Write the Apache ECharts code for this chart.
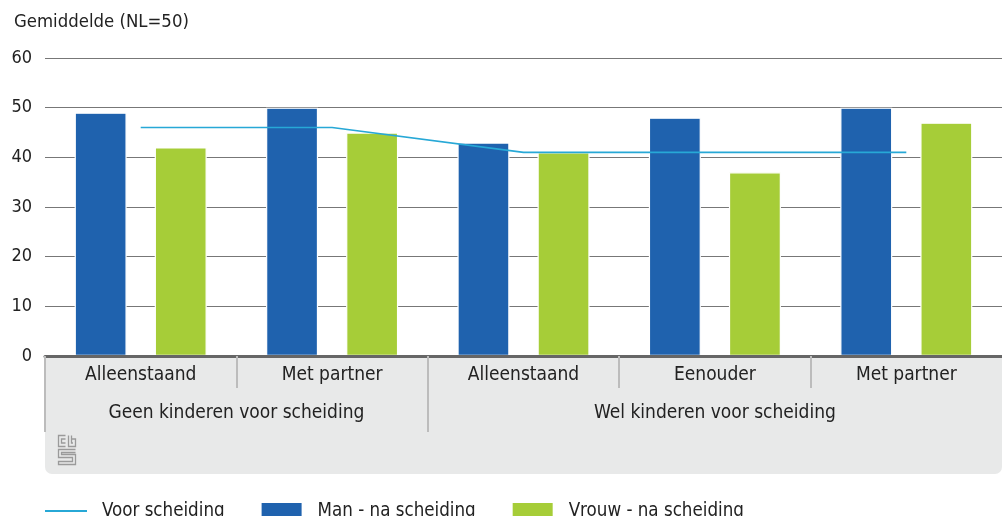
<!DOCTYPE html>
<html>
<head>
<meta charset="utf-8">
<script src="https://cdn.jsdelivr.net/npm/echarts@6/dist/echarts.min.js"></script>
<style>
html,body{margin:0;padding:0;background:#fff;}
#c{width:1002px;height:516px;}
</style>
</head>
<body>
<div id="c"></div>
<script>
const categories = ['Alleenstaand', 'Met partner', 'Alleenstaand', 'Eenouder', 'Met partner'];
const groups = ['Geen kinderen voor scheiding', 'Wel kinderen voor scheiding'];
const groupSizes = [2, 3];
const voorScheiding = [46, 46, 41, 41, 41];
const manNa = [49, 50, 43, 48, 50];
const vrouwNa = [42, 45, 41, 37, 47];
const yTicks = [0, 10, 20, 30, 40, 50, 60];
const yTitle = 'Gemiddelde (NL=50)';
const seriesNames = ['Voor scheiding', 'Man - na scheiding', 'Vrouw - na scheiding'];

const FONT = "'Liberation Sans Narrow', 'DejaVu Sans Condensed', 'Roboto', sans-serif";
const TXT = '#222';

// group centers and boundaries (in category units)
const groupBounds = [0];
const groupCenters = [];
groupSizes.forEach((s) => {
  const start = groupBounds[groupBounds.length - 1];
  groupCenters.push(start + s / 2);
  groupBounds.push(start + s);
});
// inner category separators (not at group boundaries or the outer edges)
const innerSeps = [];
for (let i = 1; i < categories.length; i++) {
  if (groupBounds.indexOf(i) < 0) innerSeps.push(i);
}

const chart = echarts.init(document.getElementById('c'), null, {renderer: 'canvas'});
chart.setOption({
  animation: false,
  textStyle: {fontFamily: FONT},
  title: {
    text: yTitle, left: 9, top: 8,
    textStyle: {fontFamily: FONT, fontSize: 18.4, fontWeight: 'normal', color: TXT}
  },
  grid: {left: 45, right: 0, top: 58, bottom: 160, containLabel: false},
  legend: {
    left: 40, top: 496, itemGap: 35, itemWidth: 42, itemHeight: 18,
    textStyle: {fontFamily: FONT, fontSize: 18.6, color: TXT, padding: [0, 0, 0, 10]},
    data: [
      {name: seriesNames[0], icon: 'path://M0,0 L42,0 L42,2 L0,2 Z', itemStyle: {color: '#27a8d6'}},
      {name: seriesNames[1], icon: 'rect'},
      {name: seriesNames[2], icon: 'rect'}
    ]
  },
  graphic: [
    {type: 'rect', z: -10, shape: {x: 45, y: 357, width: 957, height: 117, r: [0, 0, 7, 7]}, style: {fill: '#e8e9e9'}},
    {type: 'group', left: 56, top: 433, z: 5, children: [
      {type: 'polyline', shape: {points: [[7,0],[0,0],[0,11],[7,11]]}, style: {stroke: '#9a9a9a', lineWidth: 1.3, fill: null}},
      {type: 'polyline', shape: {points: [[7,3.5],[3,3.5],[3,7.5],[7,7.5]]}, style: {stroke: '#9a9a9a', lineWidth: 1.3, fill: null}},
      {type: 'polyline', shape: {points: [[10,0],[10,11],[17,11],[17,3.5],[13,3.5]]}, style: {stroke: '#9a9a9a', lineWidth: 1.3, fill: null}},
      {type: 'polyline', shape: {points: [[13,0],[13,7.5],[14.5,7.5]]}, style: {stroke: '#9a9a9a', lineWidth: 1.3, fill: null}},
      {type: 'polyline', shape: {points: [[17,14],[0,14],[0,22],[14,22],[14,26],[0,26],[0,29],[17,29],[17,19],[3,19],[3,17],[17,17]]}, style: {stroke: '#9a9a9a', lineWidth: 1.3, fill: null}}
    ]}
  ],
  xAxis: [
    {
      type: 'category', data: categories, gridIndex: 0, position: 'bottom',
      axisLine: {show: true, lineStyle: {color: '#666', width: 3}},
      axisTick: {show: false},
      axisLabel: {fontFamily: FONT, fontSize: 19, color: TXT, margin: 10},
      z: 3
    },
    {
      type: 'value', min: 0, max: categories.length, gridIndex: 0, position: 'bottom',
      axisLine: {show: false},
      splitLine: {show: false},
      axisTick: {show: true, length: 32, customValues: innerSeps, lineStyle: {color: '#bcbcbc', width: 2}},
      axisLabel: {show: false},
      z: 3
    },
    {
      type: 'value', min: 0, max: categories.length, gridIndex: 0, position: 'bottom',
      axisLine: {show: false},
      splitLine: {show: false},
      axisTick: {show: true, length: 76, customValues: groupBounds.slice(0, -1), lineStyle: {color: '#bcbcbc', width: 2}},
      axisLabel: {
        fontFamily: FONT, fontSize: 19, color: TXT, margin: 48,
        customValues: groupCenters,
        formatter: v => groups[groupCenters.indexOf(v)] || ''
      },
      z: 3
    }
  ],
  yAxis: {
    type: 'value', min: yTicks[0], max: yTicks[yTicks.length - 1], interval: 10,
    axisLine: {show: false}, axisTick: {show: false},
    axisLabel: {fontFamily: FONT, fontSize: 18, color: TXT, margin: 13},
    splitLine: {show: true, lineStyle: {color: '#777', width: 1.2}}
  },
  series: [
    {
      name: seriesNames[1], type: 'bar', data: manNa, xAxisIndex: 0,
      barWidth: 52, barGap: '54%',
      itemStyle: {color: '#1f62ae', borderColor: '#fff', borderWidth: 1.2},
      z: 2
    },
    {
      name: seriesNames[2], type: 'bar', data: vrouwNa, xAxisIndex: 0,
      barWidth: 52, barGap: '54%',
      itemStyle: {color: '#a6cd38', borderColor: '#fff', borderWidth: 1.2},
      z: 2
    },
    {
      name: seriesNames[0], type: 'line', data: voorScheiding, xAxisIndex: 0,
      symbol: 'none', showSymbol: false,
      lineStyle: {color: '#27a8d6', width: 1.6},
      itemStyle: {color: '#27a8d6'},
      z: 4
    }
  ]
});
</script>
</body>
</html>
